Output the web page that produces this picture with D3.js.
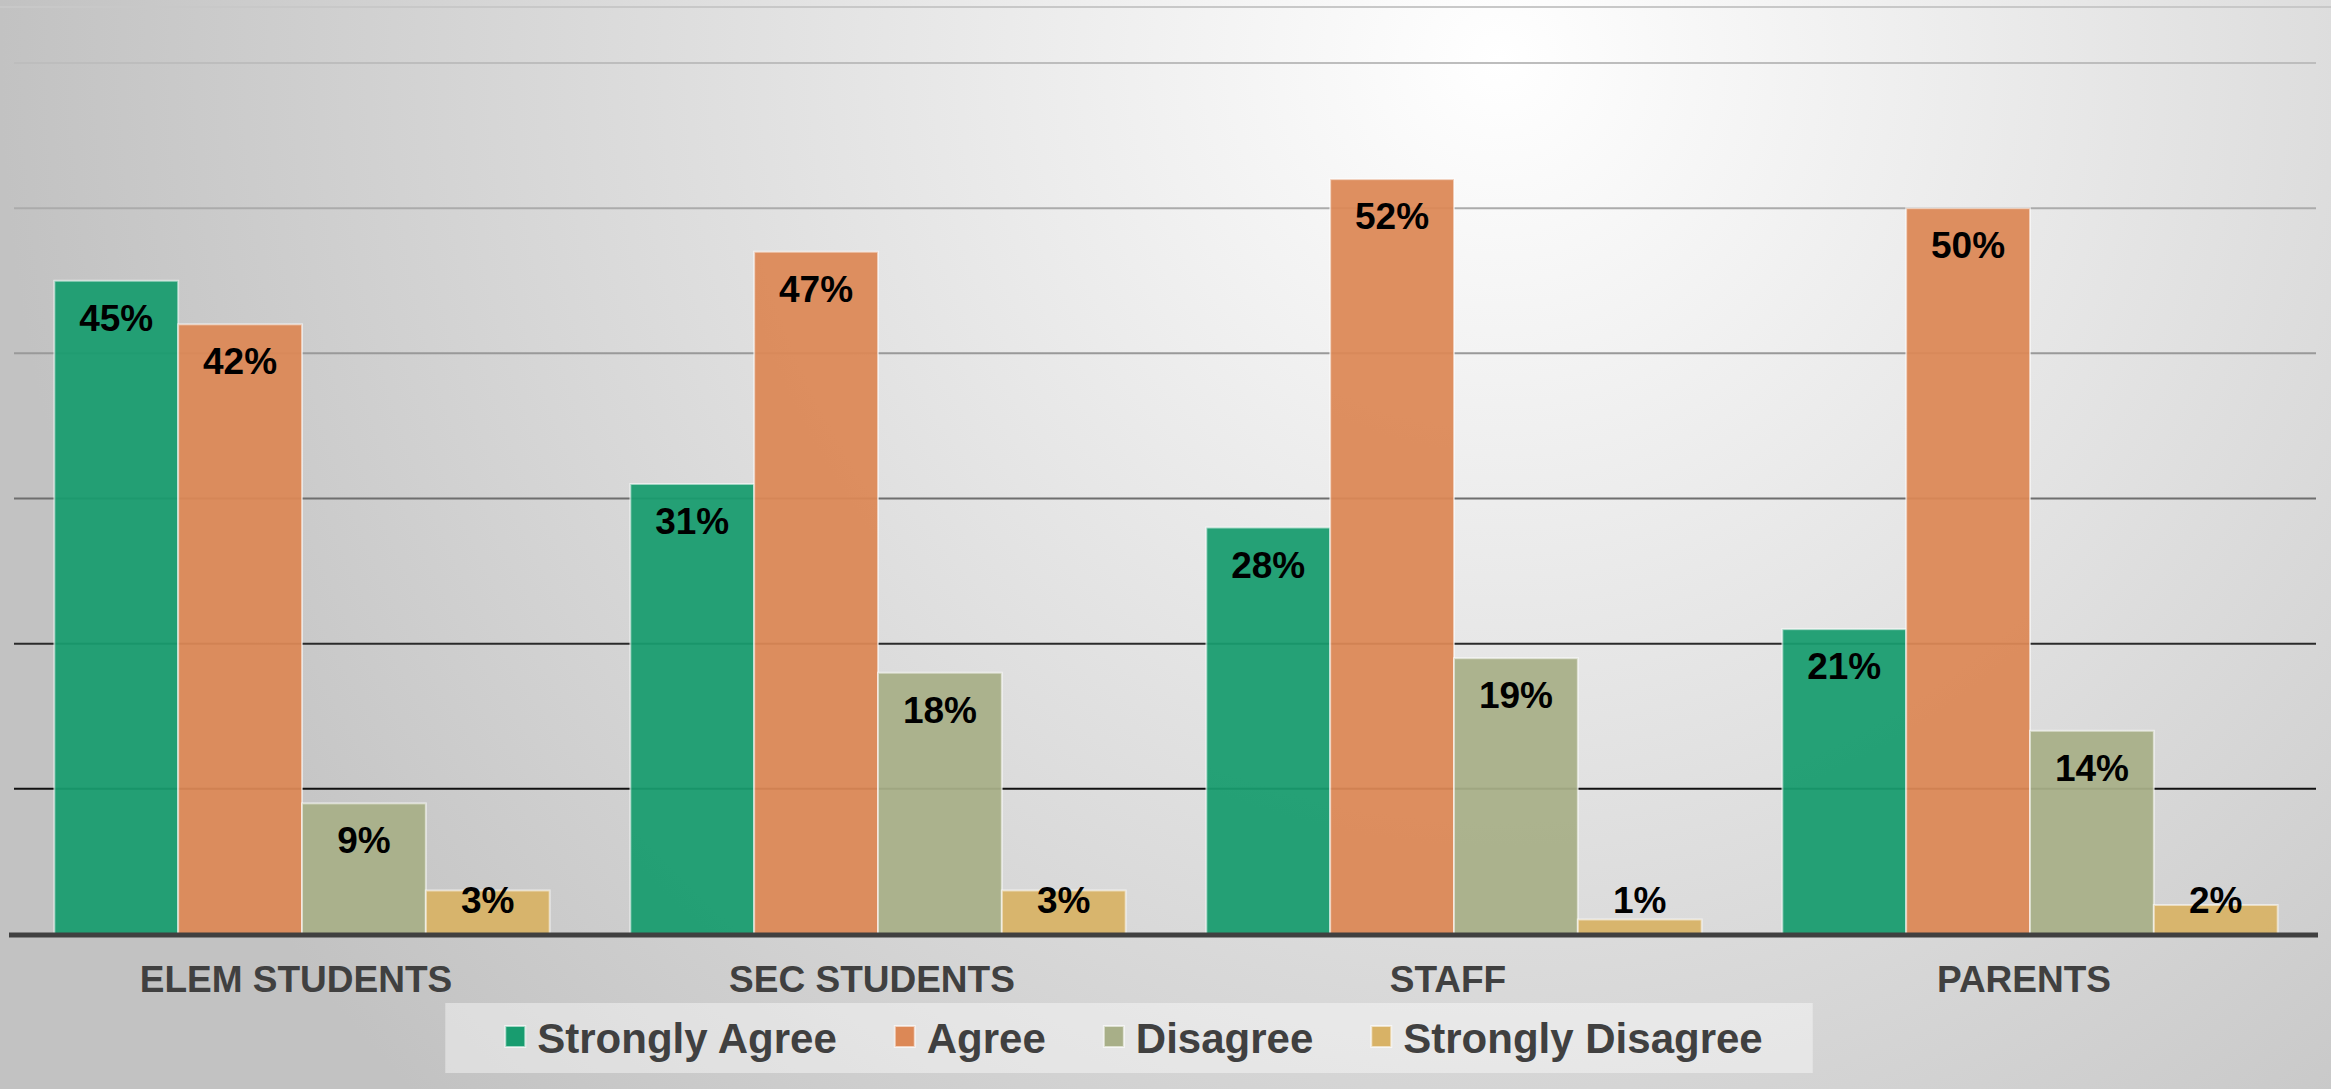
<!DOCTYPE html>
<html>
<head>
<meta charset="utf-8">
<script src="https://cdn.jsdelivr.net/npm/d3@7"></script>
<style>
  html, body { margin: 0; padding: 0; overflow: hidden; }
  svg { display: block; font-family: "Liberation Sans", Arial, sans-serif; }
</style>
</head>
<body>
<svg id="chart" width="2331" height="1089"></svg>
<script>
const categories = ['ELEM STUDENTS', 'SEC STUDENTS', 'STAFF', 'PARENTS'];
const seriesNames = ['Strongly Agree', 'Agree', 'Disagree', 'Strongly Disagree'];
const stronglyAgree = [45, 31, 28, 21];
const agree = [42, 47, 52, 50];
const disagree = [9, 18, 19, 14];
const stronglyDisagree = [3, 3, 1, 2];
const gridTicks = [10, 20, 30, 40, 50, 60];

const seriesValues = [stronglyAgree, agree, disagree, stronglyDisagree];
const colors = ['#189c6f', '#dc8856', '#a8af88', '#d8b266'];

const width = 2331,
  height = 1089,
  svg = d3.select('#chart');

// background
const defs = svg.append('defs');
const bg = defs.append('radialGradient')
  .attr('id', 'bg')
  .attr('gradientUnits', 'userSpaceOnUse')
  .attr('cx', 1500).attr('cy', 60).attr('r', 1500);
bg.append('stop').attr('offset', 0).attr('stop-color', '#ffffff');
bg.append('stop').attr('offset', 1).attr('stop-color', '#c2c2c2');

svg.append('rect').attr('width', width).attr('height', height).attr('fill', 'url(#bg)');
svg.append('line')
  .attr('x1', 0).attr('x2', width).attr('y1', 7).attr('y2', 7)
  .attr('stroke', '#c8c8c8').attr('stroke-width', 2);

const y = d3.scaleLinear().domain([0, 60]).range([934, 63]);

const x0 = d3.scaleBand()
  .domain(categories)
  .range([14, 2318])
  .paddingInner(0.14)
  .paddingOuter(0.07);

const x1 = d3.scaleBand()
  .domain(seriesNames)
  .range([0, x0.bandwidth()]);

// gridlines, darker toward the bottom
const gridColor = d3.scaleLinear()
  .domain([10, 20, 30, 40, 60])
  .range(['#111111', '#2a2a2a', '#6e6e6e', '#999999', '#bdbdbd']);

svg.append('g')
  .selectAll('line')
  .data(gridTicks)
  .join('line')
  .attr('x1', 14).attr('x2', 2316)
  .attr('y1', d => y(d)).attr('y2', d => y(d))
  .attr('stroke', d => gridColor(d))
  .attr('stroke-width', 2);

// bars
const rows = [];
categories.forEach((c, i) => {
  seriesNames.forEach((s, j) => {
    rows.push({ cat: c, series: s, idx: j, value: seriesValues[j][i] });
  });
});

const bars = svg.append('g');
bars.selectAll('rect')
  .data(rows)
  .join('rect')
  .attr('x', d => x0(d.cat) + x1(d.series))
  .attr('y', d => y(d.value))
  .attr('width', x1.bandwidth())
  .attr('height', d => y(0) - y(d.value))
  .attr('fill', d => colors[d.idx])
  .attr('fill-opacity', 0.94)
  .attr('stroke', 'rgba(255,255,255,0.55)')
  .attr('stroke-width', 2);

// value labels (inside end, kept off the axis)
bars.selectAll('text')
  .data(rows)
  .join('text')
  .attr('x', d => x0(d.cat) + x1(d.series) + x1.bandwidth() / 2)
  .attr('y', d => Math.min(y(d.value) + 50, 913))
  .attr('text-anchor', 'middle')
  .attr('font-size', 37)
  .attr('font-weight', 'bold')
  .attr('fill', '#000')
  .text(d => d.value + '%');

// axis line
svg.append('line')
  .attr('x1', 9).attr('x2', 2318)
  .attr('y1', y(0) + 1).attr('y2', y(0) + 1)
  .attr('stroke', '#404040')
  .attr('stroke-width', 5);

// category labels
svg.append('g')
  .selectAll('text')
  .data(categories)
  .join('text')
  .attr('x', d => x0(d) + x0.bandwidth() / 2 - 6)
  .attr('y', 992)
  .attr('text-anchor', 'middle')
  .attr('font-size', 37)
  .attr('font-weight', 'bold')
  .attr('fill', '#404040')
  .text(d => d);

// legend
const legend = svg.append('g');
const legendBox = legend.append('rect')
  .attr('y', 1003).attr('height', 70)
  .attr('fill', 'rgba(255,255,255,0.42)');

let lx = 0;
const items = seriesNames.map((s, i) => {
  const g = legend.append('g');
  g.append('rect')
    .attr('x', 0).attr('y', 1026)
    .attr('width', 20).attr('height', 21)
    .attr('fill', colors[i])
    .attr('stroke', 'rgba(255,255,255,0.6)')
    .attr('stroke-width', 2);
  const t = g.append('text')
    .attr('x', 32).attr('y', 1053)
    .attr('font-size', 42)
    .attr('font-weight', 'bold')
    .attr('fill', '#404040')
    .text(s);
  const w = 32 + t.node().getComputedTextLength();
  g.attr('transform', `translate(${lx},0)`);
  lx += w + 58;
  return g;
});
const legendWidth = lx - 58;
const legendLeft = 1134 - legendWidth / 2;
items.forEach(g => {
  const t = g.attr('transform').match(/translate\(([-\d.]+)/)[1];
  g.attr('transform', `translate(${+t + legendLeft},0)`);
});
legendBox.attr('x', legendLeft - 60).attr('width', legendWidth + 110);
</script>
</body>
</html>
